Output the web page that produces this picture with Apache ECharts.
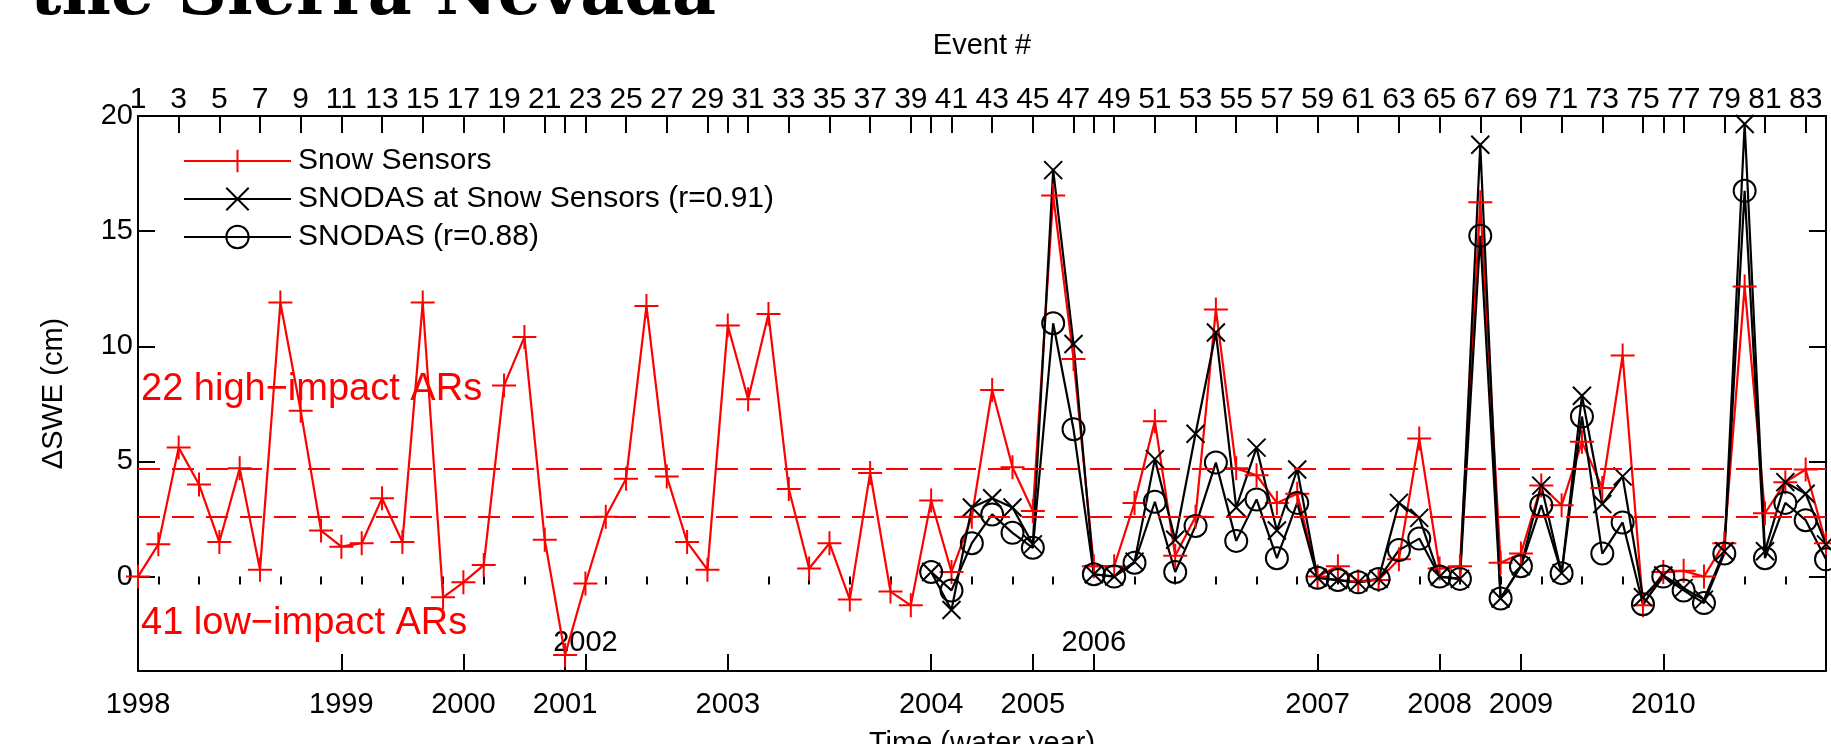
<!DOCTYPE html>
<html>
<head>
<meta charset="utf-8">
<title>SWE change per AR event</title>
<script src="https://cdn.jsdelivr.net/npm/echarts@6/dist/echarts.min.js"></script>
<style>
  html, body { margin: 0; padding: 0; background: #fff; }
  #chart { width: 1831px; height: 744px; }
</style>
</head>
<body>
<div id="chart"></div>
<script>
// delta SWE (cm) for each AR event, event # 1..84
const snowSensors = [
  0.0, 1.4, 5.6, 4.0, 1.5, 4.7, 0.3, 11.9, 7.2, 2.0,
  1.3, 1.45, 3.4, 1.5, 11.9, -0.9, -0.25, 0.5, 8.3, 10.4,
  1.6, -3.4, -0.3, 2.6, 4.25, 11.75, 4.35, 1.5, 0.3, 10.9,
  7.7, 11.4, 3.8, 0.35, 1.45, -1.0, 4.5, -0.65, -1.25, 3.3,
  0.2, 2.6, 8.1, 4.75, 2.85, 16.55, 9.45, 0.45, 0.45, 3.2,
  6.75, 0.9, 2.6, 11.6, 4.7, 4.4, 3.2, 3.6, 0.0, 0.45,
  -0.2, -0.15, 0.75, 6.0, 0.35, 0.45, 16.25, 0.6, 1.0, 3.95,
  3.1, 5.85, 3.85, 9.6, -1.25, 0.2, 0.25, 0.0, 1.45, 12.6,
  2.75, 4.1, 4.65, 1.45
]

// SNODAS only exists from event 40 (water year 2004) on
const snodasFirstEvent = 40
const snodasAtSensors = [
  0.2, -1.45, 3.0, 3.4, 3.0, 1.4, 17.65, 10.1, 0.1, 0.0,
  0.65, 5.1, 1.6, 6.2, 10.6, 3.0, 5.6, 2.0, 4.65, -0.05,
  -0.15, -0.25, -0.1, 3.2, 2.55, 0.0, -0.1, 18.75, -0.95, 0.45,
  3.95, 0.15, 7.85, 3.15, 4.35, -0.9, 0.05, -0.5, -1.0, 1.1,
  19.65, 1.1, 4.1, 3.6, 1.4
]
const snodas = [
  0.2, -0.6, 1.45, 2.7, 1.9, 1.25, 11.0, 6.4, 0.1, 0.0,
  0.6, 3.25, 0.2, 2.2, 4.95, 1.55, 3.35, 0.8, 3.2, -0.05,
  -0.15, -0.25, -0.1, 1.15, 1.65, 0.0, -0.1, 14.8, -0.95, 0.45,
  3.1, 0.15, 6.95, 1.0, 2.35, -1.2, 0.0, -0.6, -1.15, 1.0,
  16.75, 0.8, 3.2, 2.45, 0.75
]

// high / low impact cut-offs (cm)
const thresholds = [4.7, 2.6]

// first event of each water year
const yearEvents = [1, 11, 17, 22, 23, 30, 40, 45, 48, 59, 65, 69, 76]
const yearLabels = ["1998", "1999", "2000", "2001", "2002", "2003", "2004", "2005", "2006", "2007", "2008", "2009", "2010"]
const raisedYears = ["2002", "2006"]

const yTicks = [0, 5, 10, 15, 20]
const seriesNames = ["Snow Sensors", "SNODAS at Snow Sensors (r=0.91)", "SNODAS (r=0.88)"]

const FONT = "'Liberation Sans', Arial, Helvetica, sans-serif"
const PLUS = "path://M10,0L10,20M0,10L20,10"
const CROSS = "path://M0,0L20,20M20,0L0,20"
const CLEAR = "rgba(0,0,0,0)"

const lastEvent = snowSensors.length
const oddEvents = []
const evenEvents = []
for (let e = 1; e <= lastEvent; e++) (e % 2 ? oddEvents : evenEvents).push(e)
const longTopTicks = oddEvents.concat(yearEvents.filter((e) => e % 2 === 0))
const shortTopTicks = evenEvents.filter((e) => !yearEvents.includes(e))
const lowYearEvents = yearEvents.filter((e, i) => !raisedYears.includes(yearLabels[i]))
const raisedYearEvents = yearEvents.filter((e, i) => raisedYears.includes(yearLabels[i]))
const yearOf = (v) => yearLabels[yearEvents.indexOf(v)] || ""

const toPairs = (vals, first) => vals.map((v, i) => [first + i, v])

const black = { color: "#000", width: 2 }
const tickText = { fontSize: 29, color: "#000", fontFamily: FONT }
const bigText = { fontSize: 30, color: "#000", fontFamily: FONT }

const chart = echarts.init(document.getElementById("chart"))

const option = {
  animation: false,
  backgroundColor: "#fff",
  // keep the frame where it is even though the axis names run off the canvas
  grid: { left: 138, right: 5, top: 116, bottom: 73, outerBoundsMode: "none", containLabel: false },
  legend: {
    orient: "vertical",
    left: 178,
    top: 141,
    itemWidth: 107,
    itemHeight: 28,
    itemGap: 8,
    selectedMode: false,
    textStyle: { ...bigText, padding: [0, 0, 0, 2] },
    data: [
      { name: seriesNames[0], itemStyle: { color: CLEAR, borderColor: "#f00", borderWidth: 2 }, lineStyle: { color: "#f00", width: 2 } },
      { name: seriesNames[1], itemStyle: { color: CLEAR, borderColor: "#000", borderWidth: 2 }, lineStyle: { color: "#000", width: 2 } },
      { name: seriesNames[2], itemStyle: { color: CLEAR, borderColor: "#000", borderWidth: 2 }, lineStyle: { color: "#000", width: 2 } },
    ],
  },
  xAxis: [
    {
      type: "value",
      position: "bottom",
      min: 1,
      max: lastEvent,
      name: "Time (water year)",
      nameLocation: "middle",
      nameGap: 58,
      nameTextStyle: tickText,
      axisLine: { show: true, onZero: false, lineStyle: black },
      axisTick: { show: true, inside: true, length: 17, lineStyle: black, customValues: yearEvents },
      axisLabel: { ...tickText, margin: 19, customValues: lowYearEvents, formatter: yearOf },
      splitLine: { show: false },
    },
    {
      // labels that do not fit under the axis sit just above it
      type: "value",
      position: "bottom",
      min: 1,
      max: lastEvent,
      axisLine: { show: false },
      axisTick: { show: false },
      axisLabel: { ...tickText, inside: true, margin: 14, customValues: raisedYearEvents, formatter: yearOf },
      splitLine: { show: false },
    },
    {
      type: "value",
      position: "top",
      min: 1,
      max: lastEvent,
      name: "Event #",
      nameLocation: "middle",
      nameGap: 56,
      nameTextStyle: tickText,
      axisLine: { show: true, onZero: false, lineStyle: black },
      axisTick: { show: true, inside: true, length: 17, lineStyle: black, customValues: longTopTicks },
      axisLabel: { ...bigText, margin: 1, customValues: oddEvents },
      splitLine: { show: false },
    },
    {
      type: "value",
      position: "top",
      min: 1,
      max: lastEvent,
      axisLine: { show: false },
      axisTick: { show: true, inside: true, length: 8, lineStyle: black, customValues: shortTopTicks },
      axisLabel: { show: false },
      splitLine: { show: false },
    },
  ],
  yAxis: [
    {
      type: "value",
      position: "left",
      min: -4.1,
      max: 20,
      name: "ΔSWE (cm)",
      nameLocation: "middle",
      nameGap: 70,
      nameRotate: 90,
      nameTextStyle: tickText,
      axisLine: { show: true, onZero: false, lineStyle: black },
      axisTick: { show: true, inside: true, length: 17, lineStyle: black, customValues: yTicks },
      axisLabel: { ...tickText, margin: 5, customValues: yTicks },
      splitLine: { show: false },
    },
    {
      type: "value",
      position: "right",
      min: -4.1,
      max: 20,
      axisLine: { show: true, onZero: false, lineStyle: black },
      axisTick: { show: true, inside: true, length: 17, lineStyle: black, customValues: yTicks },
      axisLabel: { show: false },
      splitLine: { show: false },
    },
  ],
  graphic: [
    {
      type: "text",
      x: 30,
      y: -4,
      style: { text: "the Sierra Nevada", font: "bold 68px 'DejaVu Serif', serif", fill: "#000", verticalAlign: "middle" },
    },
    {
      type: "text",
      x: 141,
      y: 390,
      z: 10,
      style: { text: "22 high−impact ARs", fontSize: 38, fontFamily: FONT, fill: "#f00", verticalAlign: "middle" },
    },
    {
      type: "text",
      x: 141,
      y: 624,
      z: 10,
      style: { text: "41 low−impact ARs", fontSize: 38, fontFamily: FONT, fill: "#f00", verticalAlign: "middle" },
    },
  ],
  series: [
    {
      name: seriesNames[0],
      type: "line",
      data: toPairs(snowSensors, 1),
      symbol: PLUS,
      symbolSize: 24,
      showAllSymbol: true,
      lineStyle: { color: "#f00", width: 2.2 },
      itemStyle: { color: CLEAR, borderColor: "#f00", borderWidth: 2 },
      markLine: {
        silent: true,
        symbol: "none",
        label: { show: false },
        lineStyle: { color: "#f00", width: 2, type: [22, 12] },
        data: thresholds.map((t) => ({ yAxis: t })),
      },
    },
    {
      name: seriesNames[1],
      type: "line",
      data: toPairs(snodasAtSensors, snodasFirstEvent),
      symbol: CROSS,
      symbolSize: 18,
      showAllSymbol: true,
      lineStyle: { color: "#000", width: 2.2 },
      itemStyle: { color: CLEAR, borderColor: "#000", borderWidth: 2 },
    },
    {
      name: seriesNames[2],
      type: "line",
      data: toPairs(snodas, snodasFirstEvent),
      symbol: "circle",
      symbolSize: 22,
      showAllSymbol: true,
      lineStyle: { color: "#000", width: 2.2 },
      itemStyle: { color: CLEAR, borderColor: "#000", borderWidth: 2 },
    },
  ],
}

chart.setOption(option)
window.addEventListener("resize", () => chart.resize())
</script>
</body>
</html>
